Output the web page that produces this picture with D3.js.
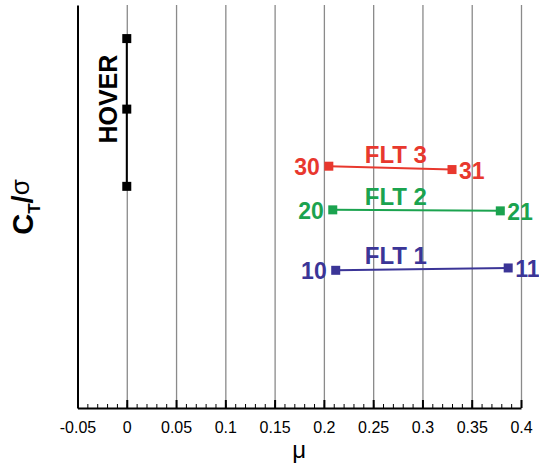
<!DOCTYPE html>
<html>
<head>
<meta charset="utf-8">
<script src="https://cdn.jsdelivr.net/npm/d3@7"></script>
<style>
    body { margin: 0; background: #fff; }
    text { font-family: "Liberation Sans", Arial, sans-serif; }
</style>
</head>
<body>
<div id="chart"></div>
<script>
// axis ticks
const xTicks = [-0.05, 0, 0.05, 0.1, 0.15, 0.2, 0.25, 0.3, 0.35, 0.4];

// hover points
const hoverMu = [0, 0, 0];
const hoverCT = [0.130, 0.109, 0.086];
const hoverLabel = "HOVER";

// forward flight runs
const flightNames = ["FLT 1", "FLT 2", "FLT 3"];
const flightMu = [[0.212, 0.387], [0.209, 0.379], [0.205, 0.330]];
const flightCT = [[0.0610, 0.0617], [0.0790, 0.0787], [0.0920, 0.0910]];
const flightPointLabels = [["10", "11"], ["20", "21"], ["30", "31"]];
const flightColors = ["#3b3597", "#1ba34f", "#e8382e"];
const flightTitleMu = 0.273;

const margin = { top: 5, right: 18, bottom: 58, left: 77.5 };
const W = 539, H = 466;
const width = W - margin.left - margin.right;
const height = H - margin.top - margin.bottom;

const svg = d3.select("#chart").append("svg")
    .attr("width", W)
    .attr("height", H)
    .append("g")
    .attr("transform", `translate(${margin.left},${margin.top})`);

const x = d3.scaleLinear().domain([-0.05, 0.4]).range([0, width]);
const y = d3.scaleLinear().domain([0.02, 0.14]).range([height, 0]);

// gridlines
svg.append("g")
    .attr("transform", `translate(0,${height})`)
    .call(d3.axisBottom(x).tickValues(xTicks.slice(1)).tickSize(-height).tickFormat(""))
    .call(g => g.select(".domain").remove())
    .call(g => g.selectAll("line").attr("stroke", "#8a8a8a").attr("stroke-width", 1.3));

// minor ticks
svg.append("g")
    .attr("transform", `translate(0,${height})`)
    .call(d3.axisBottom(x).ticks(45).tickSize(-4).tickFormat(""))
    .call(g => g.select(".domain").remove())
    .call(g => g.selectAll("line").attr("stroke", "#000").attr("stroke-width", 1));

// major ticks + labels
svg.append("g")
    .attr("transform", `translate(0,${height})`)
    .call(d3.axisBottom(x).tickValues(xTicks).tickSize(-8).tickSizeOuter(0).tickPadding(7)
        .tickFormat(d => String(+d.toFixed(2))))
    .call(g => g.select(".domain").attr("stroke", "#000").attr("stroke-width", 2))
    .call(g => g.selectAll("line").attr("stroke", "#000").attr("stroke-width", 2))
    .call(g => g.selectAll("text")
        .attr("y", 14)
        .attr("fill", "#000")
        .style("font-size", "16px")
        .style("font-family", "'Liberation Sans', Arial, sans-serif"));

// left axis
svg.append("g")
    .call(d3.axisLeft(y).tickValues([]).tickSizeOuter(0))
    .call(g => g.select(".domain").attr("stroke", "#000").attr("stroke-width", 2));

// axis labels
svg.append("text")
    .attr("x", width / 2)
    .attr("y", height + 50)
    .attr("text-anchor", "middle")
    .style("font-size", "24px")
    .text("\u03bc");

const yLab = svg.append("text")
    .attr("transform", `translate(${33 - margin.left},${207 - margin.top}) rotate(-90)`)
    .attr("text-anchor", "middle")
    .style("font-size", "29px")
    .style("font-weight", "bold");
yLab.append("tspan").text("C");
yLab.append("tspan").attr("dy", 7).style("font-size", "17px").text("T");
yLab.append("tspan").attr("dy", -7).text("/");
yLab.append("tspan").attr("dy", -4).style("font-weight", "normal").style("font-size", "26px").text("\u03c3");

// hover
const hover = hoverMu.map((m, i) => ({ mu: m, ct: hoverCT[i] }));
svg.append("path")
    .datum(hover)
    .attr("fill", "none")
    .attr("stroke", "#000")
    .attr("stroke-width", 2)
    .attr("d", d3.line().x(d => x(d.mu)).y(d => y(d.ct)));
svg.selectAll(".hover-pt")
    .data(hover)
    .enter().append("rect")
    .attr("class", "hover-pt")
    .attr("x", d => x(d.mu) - 4.5)
    .attr("y", d => y(d.ct) - 4.5)
    .attr("width", 9)
    .attr("height", 9)
    .attr("fill", "#000");
svg.append("text")
    .attr("transform", `translate(${x(0) - 10},${y(hoverCT[1]) - 10}) rotate(-90)`)
    .attr("text-anchor", "middle")
    .style("font-size", "25px")
    .style("font-weight", "bold")
    .text(hoverLabel);

// flights
flightNames.forEach((name, i) => {
    const pts = flightMu[i].map((m, j) => ({ mu: m, ct: flightCT[i][j], label: flightPointLabels[i][j] }));
    const color = flightColors[i];
    const g = svg.append("g").attr("class", "flight");

    g.append("path")
        .datum(pts)
        .attr("fill", "none")
        .attr("stroke", color)
        .attr("stroke-width", 2)
        .attr("d", d3.line().x(d => x(d.mu)).y(d => y(d.ct)));

    g.selectAll("rect")
        .data(pts)
        .enter().append("rect")
        .attr("x", d => x(d.mu) - 4.5)
        .attr("y", d => y(d.ct) - 4.5)
        .attr("width", 9)
        .attr("height", 9)
        .attr("fill", color);

    g.selectAll(".pt-label")
        .data(pts)
        .enter().append("text")
        .attr("class", "pt-label")
        .attr("x", (d, j) => j === 0 ? x(d.mu) - 9 : x(d.mu) + 7)
        .attr("y", d => y(d.ct) + 9)
        .attr("text-anchor", (d, j) => j === 0 ? "end" : "start")
        .attr("fill", color)
        .style("font-size", "23px")
        .style("font-weight", "bold")
        .text(d => d.label);

    g.append("text")
        .attr("x", x(flightTitleMu))
        .attr("y", y(d3.mean(flightCT[i])) - 5)
        .attr("text-anchor", "middle")
        .attr("fill", color)
        .style("font-size", "24px")
        .style("font-weight", "bold")
        .text(name);
});
</script>
</body>
</html>
